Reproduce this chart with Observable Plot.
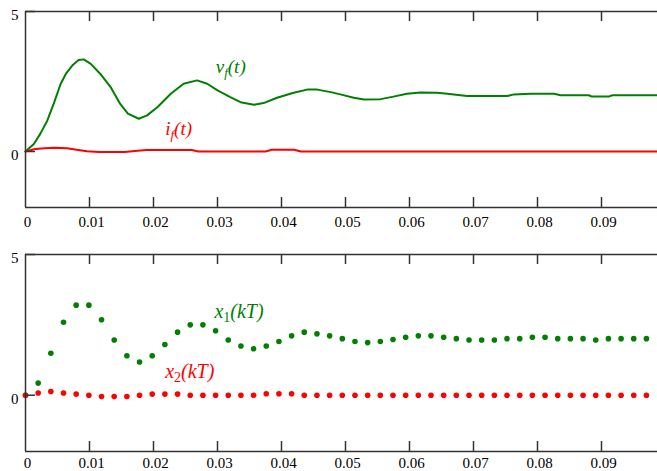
<!DOCTYPE html>
<html><head><meta charset="utf-8">
<script src="https://cdn.jsdelivr.net/npm/d3@7"></script>
<script src="https://cdn.jsdelivr.net/npm/@observablehq/plot@0.6"></script>
<style>
html,body{margin:0;padding:0;background:#fff;}
#chart svg{display:block;}
</style></head><body><div id="chart"></div>
<script>
// continuous response v_f(t)
const vfTime = [0, 0.0013, 0.0023, 0.0034, 0.0044, 0.0055, 0.0063, 0.0073, 0.0083, 0.0091, 0.0102, 0.0117, 0.0133, 0.0148, 0.016, 0.0177, 0.019, 0.0206, 0.0227, 0.0247, 0.0268, 0.0284, 0.030, 0.032, 0.0336, 0.0357, 0.0372, 0.0393, 0.0419, 0.044, 0.0456, 0.0477, 0.0492, 0.0513, 0.0529, 0.0555, 0.0575, 0.0596, 0.0617, 0.0643, 0.0659, 0.069, 0.0753, 0.0763, 0.0789, 0.0826, 0.0836, 0.088, 0.0885, 0.0911, 0.0917, 0.0988];
const vfValue = [0, 0.27, 0.63, 1.1, 1.7, 2.42, 2.77, 3.07, 3.27, 3.29, 3.13, 2.77, 2.30, 1.70, 1.35, 1.17, 1.29, 1.58, 2.06, 2.42, 2.54, 2.42, 2.18, 1.94, 1.76, 1.67, 1.73, 1.92, 2.10, 2.21, 2.21, 2.12, 2.04, 1.92, 1.86, 1.87, 1.96, 2.06, 2.11, 2.10, 2.06, 1.98, 1.98, 2.04, 2.06, 2.06, 2.01, 2.01, 1.96, 1.96, 2.01, 2.01];
// continuous response i_f(t)
const ifTime = [0, 0.0015, 0.003, 0.0045, 0.0065, 0.008, 0.0096, 0.0115, 0.0155, 0.0175, 0.019, 0.026, 0.027, 0.0375, 0.0385, 0.042, 0.043, 0.0988];
const ifValue = [0, 0.09, 0.12, 0.13, 0.12, 0.06, 0.01, -0.02, -0.02, 0.03, 0.05, 0.05, 0, 0, 0.06, 0.06, 0, 0];
// sampled responses x1(kT), x2(kT)
const samplePeriod = 0.00198;
const x1Value = [0, 0.43, 1.49, 2.59, 3.2, 3.2, 2.68, 1.96, 1.40, 1.18, 1.40, 1.80, 2.24, 2.5, 2.5, 2.29, 1.96, 1.75, 1.65, 1.75, 1.91, 2.11, 2.24, 2.18, 2.11, 2.01, 1.91, 1.87, 1.91, 1.98, 2.06, 2.11, 2.11, 2.06, 2.01, 1.96, 1.96, 1.96, 2.01, 2.01, 2.06, 2.06, 2.01, 2.01, 2.01, 1.96, 2.01, 2.01, 2.01, 2.01];
const x2Value = [0, 0.08, 0.13, 0.08, 0.04, 0, -0.05, -0.05, -0.05, 0, 0.04, 0.04, 0.04, 0, 0, 0, 0, 0, 0, 0.05, 0.05, 0.05, 0, 0, 0, 0, 0, 0, 0, 0, 0, 0, 0, 0, 0, 0, 0, 0, 0, 0, 0, 0, 0, 0, 0, 0, 0, 0, 0, 0];
// ticks
const xTickValues = [0, 0.01, 0.02, 0.03, 0.04, 0.05, 0.06, 0.07, 0.08, 0.09];
const xTickLabels = ["0", "0.01", "0.02", "0.03", "0.04", "0.05", "0.06", "0.07", "0.08", "0.09"];
const yTickValues = [5, 0];
const yTickLabels = ["5", "0"];

const GREEN = "#008000", RED = "#ff0000", AXIS = "#333";
const FONT = '"Liberation Serif", "DejaVu Serif", serif';
const W = 657, ML = 25;
const xDomain = [0, 0.09875];

const vf = vfTime.map((t, i) => ({t, v: vfValue[i]}));
const ifd = ifTime.map((t, i) => ({t, v: ifValue[i]}));
const x1 = x1Value.map((v, k) => ({t: k * samplePeriod, v}));
const x2 = x2Value.map((v, k) => ({t: k * samplePeriod, v}));

function panel({height, marginTop, marginBottom, labelDy, marks}) {
  const innerH = height - marginTop - marginBottom;
  const innerW = W - ML;
  return Plot.plot({
    width: W, height, marginLeft: ML, marginRight: 0, marginTop, marginBottom,
    x: {domain: xDomain, axis: null},
    y: {domain: [-2, 5], axis: null},
    style: {background: "white", overflow: "visible", color: "black"},
    marks: [
      ...marks,
      Plot.ruleY([5, -2], {stroke: AXIS, strokeWidth: 1.5}),
      Plot.ruleX([0], {stroke: AXIS, strokeWidth: 1.5}),
      Plot.tickX(xTickValues.slice(1), {x: d => d, stroke: AXIS, strokeWidth: 1.5, insetTop: innerH - 10}),
      Plot.tickX(xTickValues.slice(1), {x: d => d, stroke: AXIS, strokeWidth: 1.5, insetBottom: innerH - 10}),
      Plot.tickY(yTickValues, {y: d => d, stroke: AXIS, strokeWidth: 1.5, insetRight: innerW - 10}),
      Plot.text(xTickValues, {x: d => d, y: -2, dy: labelDy, dx: 2, text: (d, i) => xTickLabels[i], fontSize: 15, fontFamily: FONT, fill: "black"}),
      Plot.text(yTickValues, {x: 0, y: d => d, dx: -7, dy: 4, text: (d, i) => yTickLabels[i], textAnchor: "end", fontSize: 15, fontFamily: FONT, fill: "black"})
    ]
  });
}

function addLabel(svg, {t, v, base, sub, rest, color, subItalic, size}) {
  const x = svg.scale("x").apply(t), y = svg.scale("y").apply(v);
  const text = d3.select(svg).append("text")
    .attr("x", x).attr("y", y).attr("fill", color).attr("text-anchor", "start")
    .style("font-family", FONT).attr("font-size", size).attr("font-style", "italic");
  text.append("tspan").text(base);
  text.append("tspan").attr("dy", 4).attr("font-size", Math.round(size * 0.68)).attr("font-style", subItalic ? "italic" : "normal").text(sub);
  text.append("tspan").attr("dy", -4).text(rest);
}

const topPanel = panel({
  height: 240, marginTop: 11, marginBottom: 33, labelDy: 15,
  marks: [
    Plot.line(vf, {x: "t", y: "v", stroke: GREEN, strokeWidth: 2}),
    Plot.line(ifd, {x: "t", y: "v", stroke: RED, strokeWidth: 2})
  ]
});
addLabel(topPanel, {t: 0.0298, v: 2.77, base: "v", sub: "f", rest: "(t)", color: GREEN, subItalic: true, size: 19});
addLabel(topPanel, {t: 0.0219, v: 0.57, base: "i", sub: "f", rest: "(t)", color: RED, subItalic: true, size: 19});

const bottomPanel = panel({
  height: 231, marginTop: 14, marginBottom: 20, labelDy: 12,
  marks: [
    Plot.dot(x1, {x: "t", y: "v", r: 2.8, fill: GREEN, stroke: "none"}),
    Plot.dot(x2, {x: "t", y: "v", r: 2.8, fill: RED, stroke: "none"})
  ]
});
addLabel(bottomPanel, {t: 0.0296, v: 2.74, base: "x", sub: "1", rest: "(kT)", color: GREEN, subItalic: false, size: 20});
addLabel(bottomPanel, {t: 0.0219, v: 0.58, base: "x", sub: "2", rest: "(kT)", color: RED, subItalic: false, size: 20});

document.getElementById("chart").append(topPanel, bottomPanel);
</script></body></html>
